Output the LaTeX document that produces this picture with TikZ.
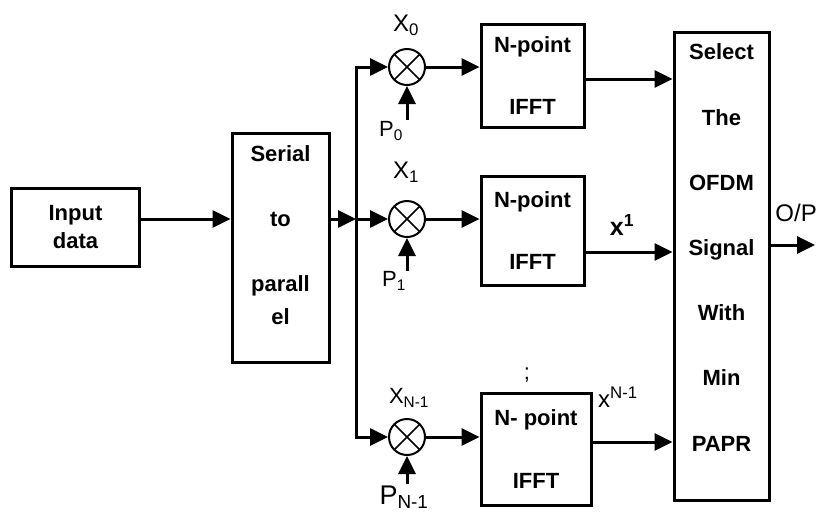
\documentclass[tikz,border=0pt]{standalone}
\usepackage{fontspec}
\setmainfont{Liberation Sans}
\usetikzlibrary{arrows.meta}

\begin{document}
\begin{tikzpicture}[x=1pt, y=-1pt, block/.style={draw, line width=3pt, align=center, inner sep=0pt, font=\fontsize{22}{32.6}\selectfont\bfseries}, mixer/.style={draw, circle, line width=2pt, minimum size=36pt, inner sep=0pt, path picture={\draw[line width=1.5pt] (path picture bounding box.north west) -- (path picture bounding box.south east) (path picture bounding box.south west) -- (path picture bounding box.north east);}}, lbl/.style={inner sep=1pt, font=\fontsize{22}{24}\selectfont}, arrow/.style={-{Triangle[length=18pt, width=17pt]}, line width=3pt}]
      \useasboundingbox (0,0) rectangle (818,512);

      % input and serial to parallel
      \node[block, minimum width=128pt, minimum height=78pt, font=\fontsize{22}{28}\selectfont\bfseries] (in) at (75.5,227) {Input\\data};
      \node[block, minimum width=97pt, minimum height=229pt, text depth=25pt] (sp) at (280.5,247.5) {Serial\\[32.6pt]to\\[32.6pt]parall\\el};
      \coordinate (b1) at (356,219);

      % mixers with their labels
      \node[mixer] (m0) at (407,67) {}; \node[mixer] (m1) at (407,219) {};
      \node[mixer] (m2) at (407,437) {};
      \node[lbl, font=\fontsize{24}{26}\selectfont] (x0) at (406,25) {X\textsubscript{0}};
      \node[lbl, font=\fontsize{24}{26}\selectfont] (x1) at (406,172) {X\textsubscript{1}};
      \node[lbl, font=\fontsize{22}{24}\selectfont] (xn) at (409,398) {X\textsubscript{N-1}};
      \node[lbl] (p0) at (391,131) {P\textsubscript{0}};
      \node[lbl] (p1) at (394,281) {P\textsubscript{1}};
      \node[lbl, font=\fontsize{27}{28}\selectfont] (pn) at (404,497) {P\textsubscript{N-1}};

      % IFFT blocks and selector
      \node[block, minimum width=103pt, minimum height=103pt] (f0) at (532.5,75.5) {N-point\\[30pt]IFFT};
      \node[block, minimum width=103pt, minimum height=109pt] (f1) at (532.5,230.5) {N-point\\[30pt]IFFT};
      \node[block, minimum width=110pt, minimum height=112pt] (f2) at (536,449) {N- point\\[30pt]IFFT};
      \node[block, minimum width=95pt, minimum height=468pt, text depth=37pt] (sel) at (721.5,266) {Select\\[32.6pt]The\\[32.6pt]OFDM\\[32.6pt]Signal\\[32.6pt]With\\[32.6pt]Min\\[32.6pt]PAPR};
      \node[lbl, font=\fontsize{25}{26}\selectfont\bfseries] (x1out) at (622,225) {x\textsuperscript{1}};
      \node[lbl, font=\fontsize{24}{26}\selectfont] (xnout) at (618,397) {x\textsuperscript{N-1}};
      \node[lbl] (gap) at (527,375) {;};
      \node[lbl, anchor=east, font=\fontsize{24}{26}\selectfont] (op) at (818,213) {O/P};
      \coordinate (out) at (815,245);

      \draw[arrow] (in.east |- b1) -- (sp.west |- b1); \draw[arrow] (sp.east |- b1) -- (b1);
      \draw[arrow] (b1) |- (m0.west); \draw[arrow] (b1) -- (m1.west); \draw[arrow] (b1) |- (m2.west);
      \draw[arrow] (m0.east) -- (f0.west |- m0); \draw[arrow] (m1.east) -- (f1.west |- m1);
      \draw[arrow] (m2.east) -- (f2.west |- m2);
      \draw[arrow] (p0.north -| m0) -- (m0.south); \draw[arrow] (p1.north -| m1) -- (m1.south);
      \draw[arrow] (pn.north -| m2) -- (m2.south);
      \draw[arrow] ([yshift=-3.5pt]f0.east) -- ([yshift=-3.5pt]f0.east -| sel.west);
      \draw[arrow] ([yshift=-21.5pt]f1.east) -- ([yshift=-21.5pt]f1.east -| sel.west);
      \draw[arrow] ([yshift=7pt]f2.east) -- ([yshift=7pt]f2.east -| sel.west);
      \draw[arrow] (sel.east |- out) -- (out);
    \end{tikzpicture}
\end{document}
